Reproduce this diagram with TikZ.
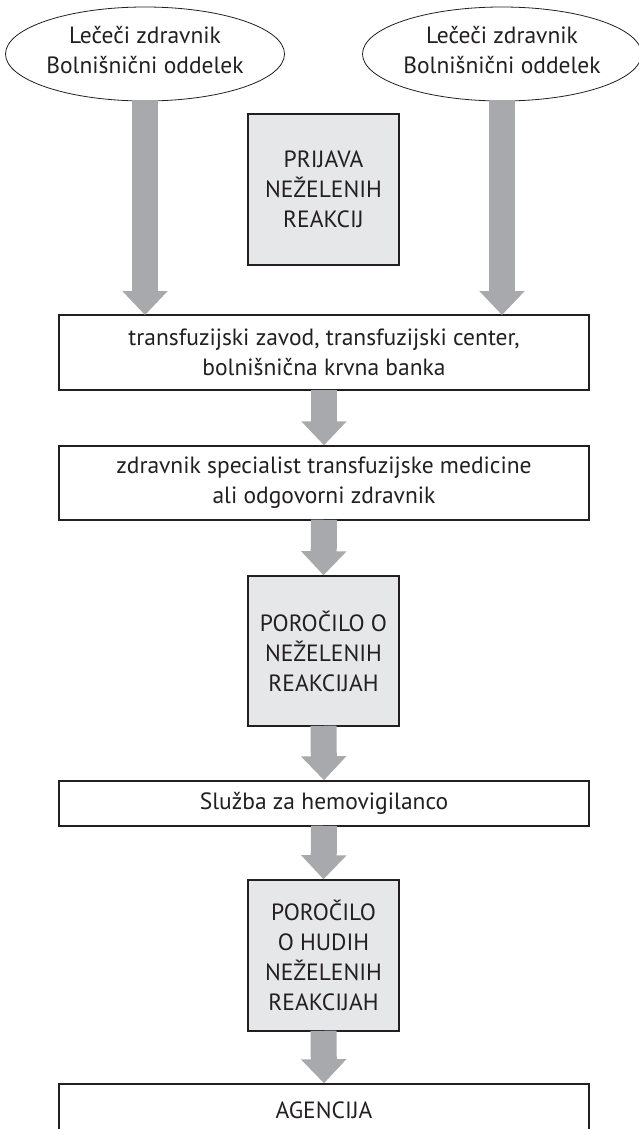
\documentclass[tikz,border=0pt]{standalone}
\usepackage{fontspec}
\setmainfont{PT Sans}
\usetikzlibrary{arrows.meta,shapes.geometric}
\definecolor{arrowgray}{HTML}{A7A9AC}
\definecolor{boxfill}{HTML}{E6E7E8}
\definecolor{linecol}{HTML}{231F20}
\tikzset{
  x=1pt,y=-1pt,
  every node/.style={font=\fontsize{23.5}{30}\selectfont, text=linecol},
  oval/.style={ellipse, draw=linecol, line width=0.8pt, fill=white, minimum width=278pt, minimum height=94pt, inner sep=0pt, align=center, text depth=8pt},
  widebox/.style={rectangle, draw=linecol, line width=1.5pt, fill=white, minimum width=530pt, inner sep=0pt, align=center},
  graybox/.style={rectangle, draw=linecol, line width=1.5pt, fill=boxfill, minimum width=151pt, minimum height=151pt, inner sep=0pt, align=center},
  flow/.style={draw=arrowgray, line width=26pt, line cap=butt, -{Triangle[width=44pt,length=24pt,fill=arrowgray]}, shorten <=-1pt}
}
\begin{document}
\begin{tikzpicture}
\useasboundingbox (0,0) rectangle (639,1129);
\fill[white] (0,0) rectangle (639,1129);
% nodes
\node[oval] (e1) at (145,54) {Lečeči zdravnik\\Bolnišnični oddelek};
\node[oval] (e2) at (502,54) {Lečeči zdravnik\\Bolnišnični oddelek};
\node[graybox] (p0) at (323.5,189.5) {PRIJAVA\\NEŽELENIH\\REAKCIJ};
\node[widebox, minimum height=75pt] (b1) at (324,352.5) {transfuzijski zavod, transfuzijski center,\\bolnišnična krvna banka};
\node[widebox, minimum height=74pt] (b2) at (324,483) {zdravnik specialist transfuzijske medicine\\ali odgovorni zdravnik};
\node[graybox, minimum height=150pt] (p1) at (323.5,651) {POROČILO O\\NEŽELENIH\\REAKCIJAH};
\node[widebox, minimum height=45pt] (b3) at (324,803.5) {Služba za hemovigilanco};
\node[graybox] (p2) at (323.5,955.5) {POROČILO\\O HUDIH\\NEŽELENIH\\REAKCIJAH};
\node[widebox, minimum height=52pt] (b4) at (324,1110) {AGENCIJA};
% connectors
\coordinate (t1) at (145,315);
\coordinate (t2) at (502,315);
\draw[flow] (e1.south) -- (t1);
\draw[flow] (e2.south) -- (t2);
\draw[flow] (b1.south) -- (b2.north);
\draw[flow] (b2.south) -- (p1.north);
\draw[flow] (p1.south) -- (b3.north);
\draw[flow] (b3.south) -- (p2.north);
\draw[flow] (p2.south) -- (b4.north);
\end{tikzpicture}
\end{document}
